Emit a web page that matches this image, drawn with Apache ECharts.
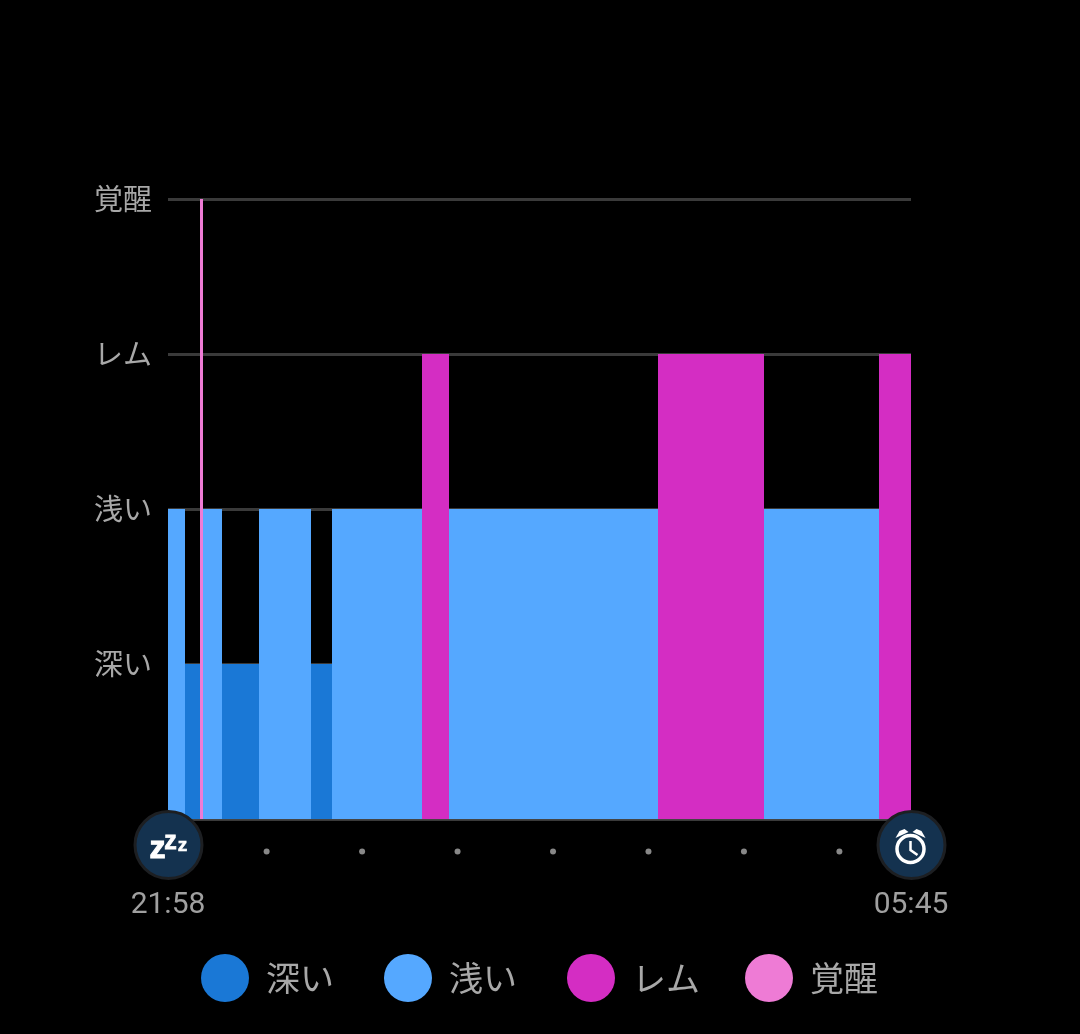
<!DOCTYPE html>
<html><head><meta charset="utf-8">
<script src="https://cdn.jsdelivr.net/npm/echarts@6/dist/echarts.min.js"></script>
<style>html,body{margin:0;padding:0;background:#000}#c{width:1080px;height:1034px}</style>
</head><body><div id="c"></div>
<script>
// minutes since 21:58: [start, end]
const deepSegments  = [[10.7,20],[33.9,57.2],[90,103]];
const lightSegments = [[0,10.7],[21.4,33.9],[57.2,90],[103,159.6],[176.6,308],[374.7,447]];
const remSegments   = [[159.6,176.6],[308,374.7],[447,467]];
const awakeSegments = [[20.1,22]];
const yLabels = ['', '深い', '浅い', 'レム', '覚醒'];
const hourDots = [62,122,182,242,302,362,422];
const startEnd = [0,467];
const timeLabels = ['21:58','05:45'];
const colors = {deep:'#1a78d6', light:'#55a8ff', rem:'#d42dc3', awake:'#ee7bd5'};
const JP = '"Noto Sans CJK JP","Noto Sans",sans-serif';

function bars(name, segs, level, color, z){
  return {
    name, type:'custom', z, itemStyle:{color},
    data: segs.map(s=>[s[0],s[1],level]),
    encode:{x:[0,1],y:2},
    renderItem(p,api){
      const a=api.coord([api.value(0),api.value(2)]), b=api.coord([api.value(1),0]);
      const x0=Math.round(a[0]), x1=Math.round(b[0]), y0=Math.round(a[1]), y1=Math.round(b[1]);
      return {type:'rect',shape:{x:x0,y:y0,width:x1-x0,height:y1-y0},
        style:{fill:color}};
    }
  };
}
function icon(p,api){
  const c=api.coord([api.value(0),-0.168]);
  const isStart=p.dataIndex===0;
  const ch=[{type:'circle',shape:{cx:0,cy:0,r:33.5},style:{fill:'#14324f',stroke:'#1d1f22',lineWidth:3}}];
  const w='#fff';
  if(isStart){
    ch.push({type:'text',style:{text:'z',x:-11,y:4,fill:w,stroke:w,lineWidth:1,font:'900 32px "Liberation Sans"',align:'center',verticalAlign:'middle'}});
    ch.push({type:'text',style:{text:'z',x:2,y:-3,fill:w,stroke:w,lineWidth:0.8,font:'900 25px "Liberation Sans"',align:'center',verticalAlign:'middle'}});
    ch.push({type:'text',style:{text:'z',x:14,y:1,fill:w,stroke:w,lineWidth:0.6,font:'900 19px "Liberation Sans"',align:'center',verticalAlign:'middle'}});
  }else{
    ch.push({type:'circle',shape:{cx:-1,cy:4,r:13.5},style:{fill:'none',stroke:w,lineWidth:3.5}});
    ch.push({type:'polyline',shape:{points:[[-1,-4],[-1,5],[6,10]]},style:{fill:'none',stroke:w,lineWidth:2.5}});
    ch.push({type:'polygon',shape:{points:[[-16,-7],[-12,-14],[-7,-16],[-3,-13]]},style:{fill:w}});
    ch.push({type:'polygon',shape:{points:[[14,-7],[10,-14],[5,-16],[1,-13]]},style:{fill:w}});
  }
  return {type:'group',x:c[0]+0.5,y:c[1],children:ch};
}

const legendBase = {top:949,itemWidth:48,itemHeight:48,itemGap:50,icon:'circle',selectedMode:false,
  textStyle:{color:'#a8a8a8',fontSize:34,fontFamily:JP,padding:[0,0,0,12]}};

const chart=echarts.init(document.getElementById('c'),null,{renderer:'canvas'});
chart.setOption({
  backgroundColor:'#000', animation:false,
  grid:{left:168,right:169,top:199,bottom:215,containLabel:false},
  xAxis:{type:'value',min:0,max:467,
    axisLine:{show:true,onZero:false,lineStyle:{color:'#444',width:2}},
    axisTick:{show:false},splitLine:{show:false},
    axisLabel:{customValues:startEnd,margin:71,color:'#a0a0a0',fontSize:30,fontFamily:'Roboto',
      hideOverlap:false,showMinLabel:true,showMaxLabel:true,
      formatter:v=>timeLabels[startEnd.indexOf(v)]}},
  yAxis:{type:'value',min:0,max:4,interval:1,
    axisLine:{show:false},axisTick:{show:false},
    splitLine:{show:true,lineStyle:{color:'#3a3a3a',width:3}},
    axisLabel:{margin:16,color:'#a8a8a8',fontSize:29,fontFamily:JP,formatter:v=>yLabels[v]}},
  legend:[
    Object.assign({},legendBase,{left:196,data:['深い','浅い','レム']}),
    Object.assign({},legendBase,{left:740,data:['覚醒']})
  ],
  series:[
    bars('深い',deepSegments,1,colors.deep,3),
    bars('浅い',lightSegments,2,colors.light,3),
    bars('レム',remSegments,3,colors.rem,3),
    bars('覚醒',awakeSegments,4,colors.awake,4),
    {type:'scatter',clip:false,z:5,symbol:'circle',symbolSize:6,silent:true,
      itemStyle:{color:'#aaaaaa'},data:hourDots.map(x=>[x,-0.21])},
    {type:'custom',clip:false,z:6,silent:true,data:startEnd.map(x=>[x]),encode:{x:0},renderItem:icon}
  ]
});
</script></body></html>
